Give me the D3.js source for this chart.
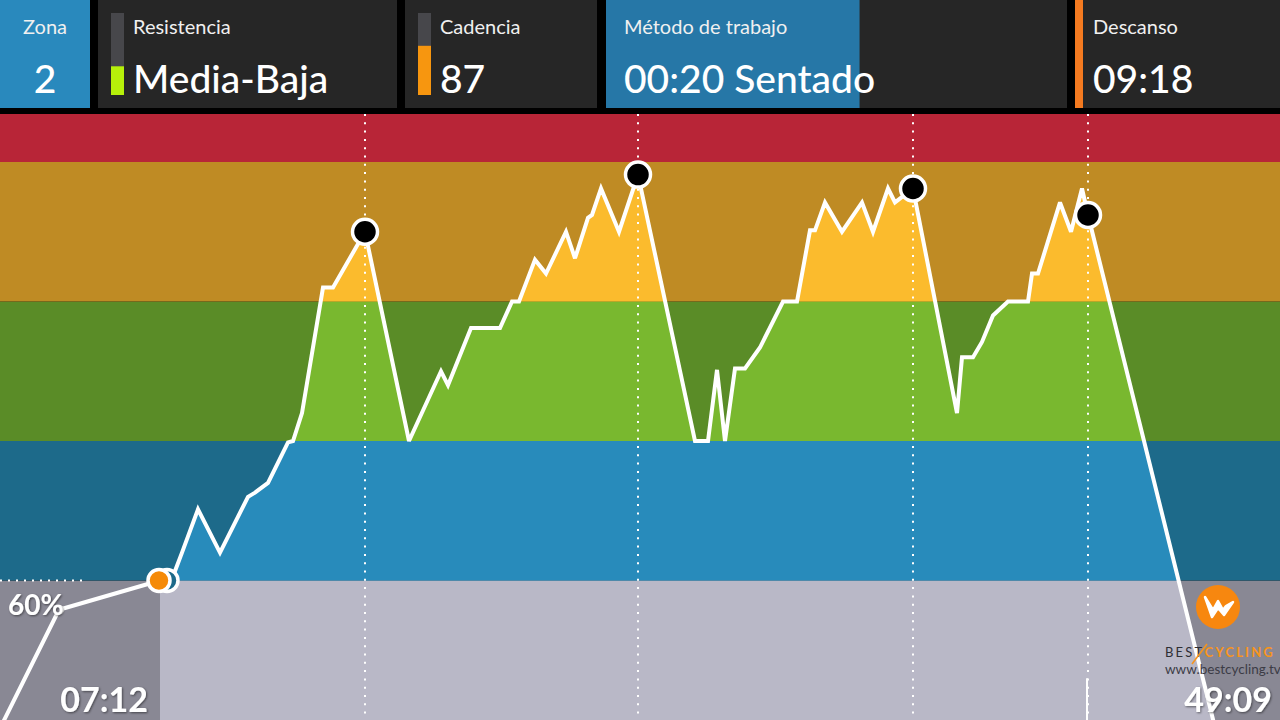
<!DOCTYPE html>
<html>
<head>
<meta charset="utf-8">
<script src="https://cdn.jsdelivr.net/npm/d3@7"></script>
<style>
  html, body { margin: 0; padding: 0; background: #000; }
  svg { display: block; }
  text { font-family: Lato, "Open Sans", sans-serif; }
</style>
</head>
<body>
<svg id="chart" width="1280" height="720"></svg>
<script>
// header data
var panelLabels = ["Zona", "Resistencia", "Cadencia", "Método de trabajo", "Descanso"];
var panelValues = ["2", "Media-Baja", "87", "00:20 Sentado", "09:18"];
var gaugeFractions = [0.35, 0.6];   // resistencia, cadencia
var methodProgress = 0.55;

// zones (level units)
var zoneBounds = [-1, 1, 2, 3, 4, 5];
var zoneDark  = ["#898894", "#1d6a8a", "#5a8c27", "#bf8b24", "#b82537"];
var zoneLight = ["#b9b8c7", "#288bbb", "#79b82f", "#fbbb2d", "#b82537"];

// session profile: time (s) and intensity level
var profileTime = [0, 14.75, 40, 43.25, 45.5, 49.5, 55, 62, 63.75, 67, 72, 73.25, 75.5, 80.75, 83.25, 91.25,
  102.25, 110.25, 112, 117.75, 125, 128, 129.75, 133.75, 136.5, 141.5, 143.75, 147, 148, 150.25, 154.75, 159.5,
  173.75, 177, 179.25, 181.25, 183.75, 186.25, 190, 195.75, 199.25, 202.5, 203.75, 206.25, 210.5, 215.5, 218.25,
  222, 223.75, 228.25, 239.25, 240.5, 243.25, 245.5, 248.25, 252, 257, 258, 259.5, 265, 267.75, 270.5, 272, 304.5];
var profileLevel = [-0.06, 0.79, 1.0, 1.03, 1.2, 1.51, 1.2, 1.6, 1.63, 1.7, 1.99, 2.0, 2.2, 3.1, 3.1, 3.5,
  2.0, 2.5, 2.4, 2.81, 2.81, 3.0, 3.0, 3.3, 3.2, 3.5, 3.31, 3.6, 3.62, 3.81, 3.5, 3.91,
  2.0, 2.0, 2.51, 2.0, 2.52, 2.52, 2.67, 3.0, 3.0, 3.51, 3.51, 3.71, 3.5, 3.71, 3.5,
  3.81, 3.71, 3.81, 2.2, 2.6, 2.6, 2.71, 2.9, 3.0, 3.0, 3.2, 3.2, 3.71, 3.5, 3.81, 3.62, -0.14];

var markerTimes = [91.25, 159.5, 228.25, 272];
var currentTime = 40;
var prevMarkTime = 14.75, prevMarkLevel = 0.79;
var prevMarkLabel = "60%";
var elapsedLabel = "07:12";
var totalLabel = "49:09";

var svg = d3.select("#chart"),
  width = +svg.attr("width"),
  height = +svg.attr("height"),
  plotTop = 114;

var x = d3.scaleLinear().domain([0, 320]).range([0, width]),
  y = d3.scaleLinear().domain([0, 4]).range([height, 162]);

var data = profileTime.map(function (t, i) { return { t: t, v: profileLevel[i] }; });

svg.append("rect").attr("width", width).attr("height", height).attr("fill", "#000");

// ---------- header ----------
var panels = [
  { x0: 0, x1: 90, fill: "#2989bd" },
  { x0: 98, x1: 397, fill: "#262626" },
  { x0: 405, x1: 597, fill: "#262626" },
  { x0: 606, x1: 1067, fill: "#262626" },
  { x0: 1075, x1: 1280, fill: "#262626" }
];
var head = svg.append("g");
head.selectAll("rect.panel").data(panels).enter().append("rect")
  .attr("class", "panel")
  .attr("x", function (d) { return d.x0; }).attr("y", 0)
  .attr("width", function (d) { return d.x1 - d.x0; }).attr("height", 108)
  .attr("fill", function (d) { return d.fill; });

// method progress
head.append("rect").attr("x", 606).attr("y", 0)
  .attr("width", (1067 - 606) * methodProgress).attr("height", 108).attr("fill", "#2677a7");
// descanso accent
head.append("rect").attr("x", 1075).attr("y", 0).attr("width", 8).attr("height", 108).attr("fill", "#f47a20");

// gauges
var gy = d3.scaleLinear().domain([0, 1]).range([95, 13]);
[{ x: 111, c: "#b6f00a", f: gaugeFractions[0] }, { x: 418, c: "#f7960f", f: gaugeFractions[1] }].forEach(function (g) {
  head.append("rect").attr("x", g.x).attr("y", gy(1)).attr("width", 13).attr("height", gy(0) - gy(1)).attr("fill", "#47474b");
  head.append("rect").attr("x", g.x).attr("y", gy(g.f)).attr("width", 13).attr("height", gy(0) - gy(g.f)).attr("fill", g.c);
});

var textX = [45, 133, 440, 624, 1093];
panelLabels.forEach(function (l, i) {
  head.append("text").attr("x", textX[i]).attr("y", 34)
    .attr("text-anchor", i === 0 ? "middle" : "start")
    .attr("font-size", 20).attr("fill", "#f0f0f0").text(l);
  head.append("text").attr("x", textX[i]).attr("y", 93)
    .attr("text-anchor", i === 0 ? "middle" : "start")
    .attr("font-size", 39).attr("font-weight", 500).attr("fill", "#fff").text(panelValues[i]);
});

// ---------- chart ----------
var defs = svg.append("defs");
defs.append("clipPath").attr("id", "plotClip").append("rect")
  .attr("x", 0).attr("y", plotTop).attr("width", width).attr("height", height - plotTop);

var area = d3.area()
  .x(function (d) { return x(d.t); })
  .y0(y(-1))
  .y1(function (d) { return y(d.v); });

defs.append("clipPath").attr("id", "fillClip").append("path")
  .attr("d", area(data.filter(function (d) { return d.t >= currentTime; })));

defs.append("filter").attr("id", "shadow")
  .append("feDropShadow").attr("dx", 1).attr("dy", 1).attr("stdDeviation", 1.2)
  .attr("flood-color", "#000").attr("flood-opacity", 0.5);

var plot = svg.append("g").attr("clip-path", "url(#plotClip)");

var bands = d3.range(zoneDark.length);
plot.selectAll("rect.dark").data(bands).enter().append("rect")
  .attr("x", 0).attr("width", width)
  .attr("y", function (i) { return y(zoneBounds[i + 1]); })
  .attr("height", function (i) { return y(zoneBounds[i]) - y(zoneBounds[i + 1]); })
  .attr("fill", function (i) { return zoneDark[i]; });

plot.append("g").attr("clip-path", "url(#fillClip)")
  .selectAll("rect").data(bands).enter().append("rect")
  .attr("x", 0).attr("width", width)
  .attr("y", function (i) { return y(zoneBounds[i + 1]); })
  .attr("height", function (i) { return y(zoneBounds[i]) - y(zoneBounds[i + 1]); })
  .attr("fill", function (i) { return zoneLight[i]; });

// dotted guides
plot.selectAll("line.vguide").data(markerTimes).enter().append("line")
  .attr("x1", function (d) { return Math.round(x(d)); }).attr("x2", function (d) { return Math.round(x(d)); })
  .attr("y1", plotTop).attr("y2", height)
  .attr("stroke", "#fff").attr("stroke-width", 2).attr("stroke-dasharray", "2,6.3");

plot.append("line")
  .attr("x1", x(0)).attr("x2", x(20.5)).attr("y1", y(1)).attr("y2", y(1))
  .attr("stroke", "#fff").attr("stroke-width", 2).attr("stroke-dasharray", "2,6");

plot.append("line")
  .attr("x1", Math.round(x(271.75))).attr("x2", Math.round(x(271.75)))
  .attr("y1", y(0.3)).attr("y2", y(0))
  .attr("stroke", "#fff").attr("stroke-width", 2);

var line = d3.line().x(function (d) { return x(d.t); }).y(function (d) { return y(d.v); });
plot.append("path").datum(data)
  .attr("d", line).attr("fill", "none").attr("stroke", "#fff")
  .attr("stroke-width", 4).attr("stroke-linejoin", "miter").attr("stroke-miterlimit", 3);

// previous-interval mark
plot.append("circle").attr("cx", x(prevMarkTime)).attr("cy", y(prevMarkLevel)).attr("r", 4)
  .attr("fill", zoneDark[0]).attr("stroke", "#fff").attr("stroke-width", 2);

// current position
plot.append("circle").attr("cx", x(currentTime + 1.75)).attr("cy", y(1)).attr("r", 11)
  .attr("fill", zoneDark[1]).attr("stroke", "#fff").attr("stroke-width", 3.5);
plot.append("circle").attr("cx", x(currentTime - 0.25)).attr("cy", y(1)).attr("r", 11)
  .attr("fill", "#f58a07").attr("stroke", "#fff").attr("stroke-width", 3.5);

// interval markers
var bisect = d3.bisector(function (d) { return d.t; }).left;
plot.selectAll("circle.marker").data(markerTimes).enter().append("circle")
  .attr("class", "marker")
  .attr("cx", function (d) { return x(d); })
  .attr("cy", function (d) {
    var i = Math.min(bisect(data, d), data.length - 1);
    return y(data[i].v);
  })
  .attr("r", 12.5).attr("fill", "#000").attr("stroke", "#fff").attr("stroke-width", 3.5);

// labels
plot.append("text").attr("x", 8).attr("y", 615).attr("font-size", 28).attr("font-weight", 700)
  .attr("fill", "#fff").attr("filter", "url(#shadow)").text(prevMarkLabel);
plot.append("text").attr("x", 148).attr("y", 712).attr("text-anchor", "end").attr("font-size", 34)
  .attr("font-weight", 700).attr("fill", "#fff").attr("filter", "url(#shadow)").text(elapsedLabel);
plot.append("text").attr("x", 1272).attr("y", 712).attr("text-anchor", "end").attr("font-size", 34)
  .attr("font-weight", 700).attr("fill", "#fff").attr("filter", "url(#shadow)").text(totalLabel);

// logo
var logo = svg.append("g").attr("transform", "translate(1218,607)");
logo.append("circle").attr("r", 22).attr("fill", "#f7870f");
logo.append("path")
  .attr("d", "M-13,-10 L-6,10 L0,1 L6,8 L15,-5 L8,-1 L5,3 L0,-6 L-5,3 Z")
  .attr("fill", "#fff").attr("stroke", "#fff").attr("stroke-width", 2.5).attr("stroke-linejoin", "round");
var brand = svg.append("text").attr("x", 1165).attr("y", 657).attr("font-size", 13)
  .attr("letter-spacing", 2.2);
brand.append("tspan").attr("fill", "#2e2e34").text("BEST");
brand.append("tspan").attr("fill", "#f7941d").attr("font-weight", 700).text("CYCLING");
svg.append("line").attr("x1", 1192).attr("y1", 664).attr("x2", 1207).attr("y2", 644)
  .attr("stroke", "#f7941d").attr("stroke-width", 1.5);
svg.append("text").attr("x", 1165).attr("y", 674).attr("font-size", 13.5)
  .attr("fill", "#3c3c46").text("www.bestcycling.tv");
</script>
</body>
</html>
